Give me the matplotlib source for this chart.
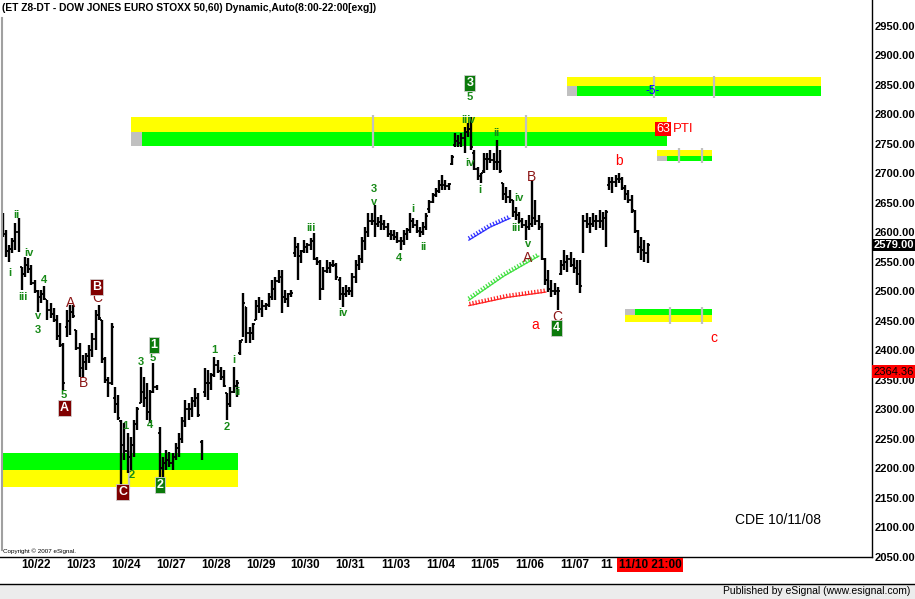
import matplotlib
matplotlib.use("Agg")
import matplotlib.pyplot as plt
import matplotlib.patheffects as pe
from matplotlib.patches import Rectangle
from matplotlib.lines import Line2D
from matplotlib.transforms import blended_transform_factory

plt.rcParams['font.family'] = ['Liberation Sans', 'DejaVu Sans']

# ---------------- data ----------------
title = "(ET Z8-DT - DOW JONES EURO STOXX 50,60) Dynamic,Auto(8:00-22:00[exg])"
day_labels = ['10/22', '10/23', '10/24', '10/27', '10/28', '10/29', '10/30',
              '10/31', '11/03', '11/04', '11/05', '11/06', '11/07', '11']
first_day_bar = 7
bars_per_day = 14
last_bar_label = "11/10 21:00"

opens = [2620, 2598, 2568, 2572, 2585, 2600, 2541, 2530, 2545, 2538, 2515, 2500, 2490, 2495,
         2485, 2468, 2462, 2452, 2425, 2410, 2440, 2450, 2465, 2435, 2405, 2370, 2380, 2390,
         2400, 2420, 2460, 2452, 2385, 2350, 2345, 2320, 2310, 2280, 2240, 2230, 2220, 2240,
         2275, 2311, 2330, 2320, 2295, 2330, 2338, 2260, 2200, 2210, 2215, 2210, 2220, 2235,
         2250, 2280, 2300, 2300, 2315, 2320, 2245, 2330, 2345, 2345, 2358, 2375, 2365, 2355,
         2328, 2310, 2330, 2340, 2395, 2418, 2474, 2430, 2430, 2452, 2475, 2470, 2475, 2477,
         2490, 2505, 2518, 2525, 2490, 2488, 2495, 2565, 2575, 2560, 2568, 2575, 2578, 2585,
         2555, 2550, 2505, 2535, 2540, 2545, 2545, 2520, 2495, 2495, 2500, 2500, 2525, 2545,
         2555, 2585, 2600, 2620, 2620, 2615, 2618, 2615, 2610, 2598, 2595, 2592, 2585, 2585,
         2598, 2605, 2620, 2612, 2602, 2600, 2610, 2640, 2652, 2663, 2670, 2680, 2680, 2678,
         2716, 2748, 2755, 2752, 2760, 2770, 2775, 2735, 2708, 2695, 2705, 2725, 2725, 2722,
         2720, 2720, 2684, 2665, 2660, 2655, 2635, 2630, 2620, 2612, 2610, 2615, 2625, 2620,
         2610, 2555, 2520, 2505, 2500, 2500, 2530, 2545, 2550, 2555, 2545, 2540, 2530, 2570,
         2620, 2615, 2615, 2620, 2620, 2620, 2625, 2680, 2685, 2685, 2690, 2690, 2675, 2665,
         2655, 2636, 2602, 2575, 2570, 2565]
highs = [2633, 2604, 2579, 2591, 2616, 2625, 2541, 2558, 2557, 2545, 2519, 2502, 2502, 2509,
         2485, 2480, 2472, 2460, 2447, 2413, 2469, 2477, 2477, 2435, 2413, 2392, 2396, 2409,
         2430, 2469, 2477, 2452, 2389, 2355, 2447, 2338, 2324, 2282, 2277, 2260, 2253, 2282,
         2304, 2372, 2355, 2345, 2333, 2379, 2341, 2270, 2219, 2231, 2228, 2226, 2243, 2260,
         2287, 2316, 2311, 2321, 2336, 2328, 2248, 2370, 2367, 2362, 2389, 2384, 2372, 2367,
         2328, 2338, 2372, 2350, 2418, 2497, 2474, 2440, 2447, 2485, 2491, 2485, 2480, 2497,
         2519, 2524, 2536, 2536, 2502, 2497, 2502, 2592, 2582, 2570, 2587, 2582, 2591, 2599,
         2558, 2553, 2541, 2553, 2550, 2553, 2548, 2524, 2507, 2511, 2507, 2531, 2553, 2562,
         2592, 2609, 2633, 2633, 2647, 2626, 2630, 2621, 2616, 2604, 2604, 2601, 2592, 2604,
         2608, 2633, 2625, 2621, 2609, 2618, 2633, 2655, 2667, 2675, 2689, 2697, 2689, 2684,
         2731, 2769, 2765, 2769, 2779, 2786, 2796, 2740, 2711, 2701, 2735, 2735, 2740, 2735,
         2757, 2740, 2684, 2677, 2672, 2655, 2643, 2635, 2625, 2621, 2630, 2689, 2655, 2630,
         2616, 2557, 2536, 2519, 2514, 2507, 2553, 2570, 2562, 2567, 2557, 2553, 2553, 2630,
         2633, 2626, 2633, 2630, 2638, 2635, 2638, 2694, 2694, 2697, 2701, 2694, 2680, 2672,
         2663, 2638, 2604, 2592, 2587, 2582]
lows = [2592, 2558, 2550, 2565, 2570, 2567, 2502, 2524, 2531, 2511, 2497, 2465, 2480, 2485,
        2452, 2455, 2448, 2418, 2406, 2333, 2423, 2426, 2455, 2401, 2355, 2355, 2367, 2379,
        2389, 2401, 2452, 2379, 2345, 2321, 2341, 2294, 2282, 2169, 2214, 2192, 2197, 2219,
        2265, 2311, 2304, 2282, 2277, 2328, 2333, 2185, 2180, 2197, 2202, 2197, 2214, 2219,
        2243, 2270, 2282, 2287, 2304, 2287, 2214, 2321, 2316, 2333, 2355, 2362, 2350, 2338,
        2282, 2304, 2328, 2321, 2392, 2423, 2413, 2413, 2418, 2452, 2463, 2457, 2469, 2474,
        2485, 2485, 2514, 2463, 2480, 2474, 2491, 2558, 2519, 2548, 2565, 2565, 2570, 2553,
        2545, 2485, 2502, 2531, 2531, 2541, 2519, 2485, 2474, 2491, 2494, 2491, 2514, 2536,
        2548, 2570, 2592, 2613, 2592, 2609, 2604, 2604, 2592, 2587, 2587, 2582, 2570, 2579,
        2587, 2599, 2608, 2599, 2592, 2596, 2604, 2633, 2650, 2660, 2667, 2672, 2672, 2672,
        2714, 2745, 2745, 2745, 2735, 2762, 2740, 2706, 2689, 2684, 2701, 2706, 2718, 2706,
        2706, 2701, 2655, 2650, 2650, 2626, 2621, 2616, 2608, 2587, 2604, 2609, 2613, 2604,
        2553, 2511, 2499, 2491, 2494, 2469, 2528, 2536, 2533, 2541, 2531, 2511, 2497, 2565,
        2608, 2599, 2609, 2604, 2608, 2604, 2575, 2672, 2667, 2677, 2684, 2672, 2655, 2650,
        2633, 2599, 2565, 2553, 2550, 2548]
closes = [2598, 2568, 2572, 2585, 2600, 2570, 2530, 2545, 2538, 2515, 2500, 2490, 2495, 2487,
          2468, 2462, 2452, 2425, 2410, 2345, 2450, 2465, 2458, 2405, 2370, 2380, 2390, 2400,
          2420, 2460, 2455, 2385, 2350, 2345, 2440, 2310, 2285, 2240, 2230, 2220, 2240, 2275,
          2300, 2330, 2320, 2295, 2330, 2338, 2335, 2200, 2210, 2215, 2210, 2220, 2235, 2250,
          2280, 2300, 2300, 2315, 2320, 2290, 2220, 2345, 2345, 2358, 2375, 2365, 2355, 2340,
          2310, 2330, 2340, 2345, 2415, 2480, 2430, 2430, 2445, 2475, 2470, 2475, 2477, 2490,
          2505, 2518, 2525, 2490, 2488, 2495, 2498, 2575, 2560, 2568, 2575, 2578, 2585, 2555,
          2550, 2505, 2535, 2540, 2545, 2545, 2525, 2495, 2495, 2500, 2500, 2525, 2545, 2555,
          2585, 2600, 2620, 2620, 2615, 2618, 2615, 2610, 2598, 2595, 2592, 2585, 2585, 2598,
          2605, 2620, 2612, 2602, 2600, 2610, 2628, 2652, 2663, 2670, 2680, 2680, 2678, 2682,
          2728, 2755, 2752, 2760, 2770, 2775, 2745, 2708, 2695, 2700, 2725, 2725, 2722, 2720,
          2720, 2705, 2665, 2660, 2655, 2635, 2630, 2620, 2612, 2610, 2615, 2625, 2620, 2610,
          2555, 2520, 2505, 2500, 2500, 2500, 2545, 2550, 2555, 2545, 2540, 2530, 2510, 2620,
          2615, 2615, 2620, 2620, 2620, 2625, 2635, 2685, 2685, 2690, 2690, 2675, 2665, 2655,
          2638, 2602, 2575, 2570, 2565, 2579]

last_price = 2579.00
alert_price = 2364.36
y_ticks = list(range(2050, 2951, 50))

# support / resistance zones (bar index range, price bands)
zone_x0 = [-0.2, 40.1, 175.9, 203.9, 193.9]
zone_x1 = [73.4, 207.0, 255.0, 221.0, 221.0]
zone_yellow = [(2169, 2197), (2770, 2796), (2848, 2863), (2730, 2740), (2448, 2460)]
zone_green = [(2197, 2226), (2747, 2770), (2831, 2848), (2721, 2730), (2460, 2470)]
zone_gray_w = [0.0, 3.4, 3.1, 3.1, 3.1]
zone_dividers = [[39.4], [115.4, 163.1], [203.0, 221.6], [210.7, 217.9], [207.9, 217.9]]

# wave labels
green_labels = [("ii", 4.4, 2630), ("i", 2.3, 2531), ("iv", 8.3, 2565), ("iii", 6.4, 2491),
                ("4", 12.9, 2519), ("v", 11.1, 2459), ("3", 11.1, 2435), ("5", 19.2, 2324),
                ("1", 38.2, 2272), ("2", 40.3, 2189), ("3", 43.1, 2380), ("5", 46.9, 2387),
                ("4", 45.9, 2274), ("1", 65.9, 2401), ("2", 69.9, 2270), ("i", 72.1, 2384),
                ("ii", 73.1, 2330), ("iii", 96.1, 2608), ("iv", 106.1, 2463), ("3", 115.7, 2674),
                ("v", 115.7, 2651), ("4", 123.5, 2557), ("i", 127.9, 2640), ("ii", 131.0, 2575),
                ("5", 145.6, 2830), ("iii", 144.4, 2791), ("v", 146.3, 2791), ("iv", 145.6, 2718),
                ("i", 148.8, 2672), ("ii", 154.0, 2769), ("iv", 160.9, 2658), ("iii", 160.0, 2608),
                ("v", 163.7, 2580)]
darkred_labels = [("A", 21.3, 2480), ("C", 29.4, 2489), ("B", 25.1, 2345),
                  ("B", 164.9, 2694), ("A", 163.7, 2556), ("C", 172.7, 2457)]
darkred_boxes = [("A", 19.2, 2302), ("B", 29.4, 2508), ("C", 37.5, 2160)]
green_boxes = [("1", 47.2, 2409), ("2", 49.1, 2172), ("3", 145.6, 2853), ("4", 172.7, 2438)]
red_labels = [("a", 165.9, 2443), ("b", 192.0, 2721), ("c", 221.6, 2421)]

# trend lines
blue_x, blue_y = [145.3, 151.9, 158.1], [2587, 2609, 2624]
lime_x, lime_y = [145.3, 156.2, 167.1], [2485, 2526, 2560]
red_x, red_y = [145.3, 157.3, 169.3], [2476, 2490, 2499]

# ---------------- figure ----------------
W, H = 915, 599
fig = plt.figure(figsize=(W / 100, H / 100), dpi=100)
fig.patch.set_facecolor('white')
ax = fig.add_axes([0, 42 / H, 872 / W, 557 / H])
ax.set_xlim(-0.78, 270.9)
ax.set_ylim(2050, 2994)
ax.set_facecolor('white')

for s in ['top', 'left']:
    ax.spines[s].set_visible(False)
for s in ['right', 'bottom']:
    ax.spines[s].set_color('black')
    ax.spines[s].set_linewidth(1.0)

# zones
for x0, x1, yb, gb, gw, divs in zip(zone_x0, zone_x1, zone_yellow, zone_green,
                                      zone_gray_w, zone_dividers):
    ax.add_patch(Rectangle((x0, yb[0]), x1 - x0, yb[1] - yb[0], fc='#ffff00', ec='none', zorder=1))
    ax.add_patch(Rectangle((x0 + gw, gb[0]), x1 - x0 - gw, gb[1] - gb[0], fc='#00ff00', ec='none', zorder=1))
    if gw > 0:
        ax.add_patch(Rectangle((x0, gb[0]), gw, gb[1] - gb[0], fc='#c0c0c0', ec='none', zorder=1))
    lo = min(yb[0], gb[0]) - 3
    hi = max(yb[1], gb[1]) + 3
    for d in divs:
        ax.plot([d, d], [lo, hi], color='#c0c0c0', lw=1.6, zorder=1.5, solid_capstyle='butt')

# OHLC bars
idx = list(range(len(highs)))
ax.vlines(idx, lows, highs, color='black', lw=1.7, zorder=3)
ax.hlines(opens, [i - 0.6 for i in idx], idx, color='black', lw=1.3, zorder=3)
ax.hlines(closes, idx, [i + 0.6 for i in idx], color='black', lw=1.3, zorder=3)

# trend lines
for tx_, ty_, col in [(blue_x, blue_y, '#3030ff'), (lime_x, lime_y, '#40e040'), (red_x, red_y, '#ff2020')]:
    ax.plot(tx_, ty_, color=col, lw=0.9, zorder=2.5,
            path_effects=[pe.withTickedStroke(angle=90, spacing=2.2, length=1.0)])

# labels
for t, x, y in green_labels:
    ax.text(x, y, t, color='#188a18', fontsize=8, fontweight='bold', ha='center', va='center', zorder=5)
for t, x, y in darkred_labels:
    ax.text(x, y, t, color='#8b1515', fontsize=10, ha='center', va='center', zorder=5)
for t, x, y in red_labels:
    ax.text(x, y, t, color='#ff0000', fontsize=10, ha='center', va='center', zorder=5)
for t, x, y in darkred_boxes:
    ax.text(x, y, t, color='white', fontsize=9, fontweight='bold', ha='center', va='center', zorder=6,
            bbox=dict(boxstyle='square,pad=0.15', fc='#800000', ec='#d0d0d0', lw=0.6))
for t, x, y in green_boxes:
    ax.text(x, y, t, color='white', fontsize=9, fontweight='bold', ha='center', va='center', zorder=6,
            bbox=dict(boxstyle='square,pad=0.15', fc='#0b7a0b', ec='#d0d0d0', lw=0.6))

ax.text(205.8, 2775, "63", color='white', fontsize=9, ha='center', va='center', zorder=6,
        bbox=dict(boxstyle='square,pad=0.1', fc='#ff0000', ec='none'))
ax.text(208.8, 2775, "PTI", color='#ff0000', fontsize=9.5, ha='left', va='center', zorder=6)
ax.text(202.6, 2840, "-5-", color='#0000ff', fontsize=8.5, ha='center', va='center', zorder=6)
ax.text(241.6, 2113, "CDE 10/11/08", color='black', fontsize=10, ha='center', va='center', zorder=6)

# y axis on right
ax.yaxis.tick_right()
ax.set_yticks(y_ticks)
ax.set_yticklabels([f"{v:.2f}" for v in y_ticks], fontsize=8, fontweight='bold')
ax.tick_params(axis='y', length=0, pad=2)
ax.set_xticks([])

ty = blended_transform_factory(ax.transAxes, ax.transData)
ax.text(1.002, last_price, f"{last_price:.2f}", transform=ty, color='white', fontsize=8,
        fontweight='bold', ha='left', va='center', zorder=10, clip_on=False,
        bbox=dict(boxstyle='square,pad=0.12', fc='black', ec='none'))
ax.text(1.002, alert_price, f"{alert_price:.2f}", transform=ty, color='black', fontsize=8,
        ha='left', va='center', zorder=10, clip_on=False,
        bbox=dict(boxstyle='square,pad=0.12', fc='#ff0000', ec='none'))

# date labels
tx = blended_transform_factory(ax.transData, fig.transFigure)
narrow = ['Liberation Sans Narrow', 'Liberation Sans', 'DejaVu Sans']
for k, lab in enumerate(day_labels):
    xi = first_day_bar + k * bars_per_day + 3.4
    if k == len(day_labels) - 1:
        ax.text(190.2, 34 / H, lab, transform=tx, family=narrow, fontsize=8.5, fontweight='bold',
                ha='right', va='center', clip_on=False, zorder=8)
    else:
        ax.text(xi, 34 / H, lab, transform=tx, family=narrow, fontsize=8.5, fontweight='bold',
                ha='center', va='center', clip_on=False, zorder=8)
ax.text(len(highs) - 0.2, 34 / H, last_bar_label, transform=tx, family=narrow, fontsize=8.5,
        fontweight='bold', color='black', ha='center', va='center', clip_on=False, zorder=9,
        bbox=dict(boxstyle='square,pad=0.12', fc='#ff0000', ec='none'))

# header / footer decorations
fig.text(2 / W, 1 - 8 / H, title, fontsize=7.4, fontweight='bold', ha='left', va='center')
fig.text(3 / W, 1 - 551 / H, "Copyright \u00a9 2007 eSignal.", fontsize=4.5, ha='left', va='center')
fig.add_artist(Line2D([2 / W, 2 / W], [1 - 550 / H, 1 - 18 / H], color='#a0a0a0', lw=1.5))
fig.add_artist(Rectangle((0, 0), 1, 15 / H, transform=fig.transFigure, fc='#ececec', ec='none'))
fig.add_artist(Line2D([0, 1], [15 / H, 15 / H], color='black', lw=1.0))
fig.text(910 / W, 7.5 / H, "Published by eSignal (www.esignal.com)", fontsize=7.5, ha='right', va='center')

fig.savefig('out.png', dpi=100)
